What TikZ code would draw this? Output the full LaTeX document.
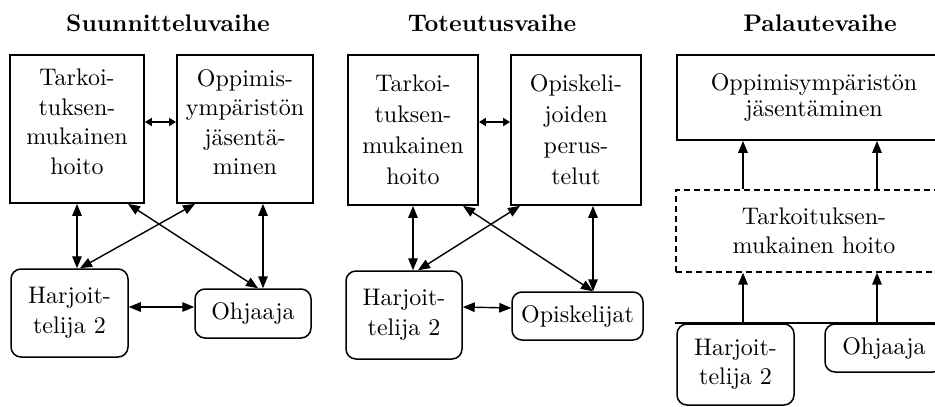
\documentclass[tikz,border=0pt]{standalone}
\usepackage{fontspec}
\setmainfont{lmroman10-regular.otf}[BoldFont=lmroman10-bold.otf]
\usetikzlibrary{arrows.meta}
\newcommand{\bodyfnt}{\fontsize{24}{29.5}\selectfont}
\newcommand{\bodyfntw}{\fontsize{24}{31}\selectfont}
\newcommand{\bodyfntn}{\fontsize{24}{26}\selectfont}
\newcommand{\titlefnt}{\fontsize{24}{27}\selectfont\bfseries}
\begin{document}
\begin{tikzpicture}[x=1pt,y=-1pt,
  box/.style={draw, line width=1.8pt, inner sep=0pt, align=center, font=\bodyfnt},
  txt/.style={inner sep=0pt, align=center, font=\bodyfnt},
  rbox/.style={box, line width=1.5pt, rounded corners=10pt},
  dbox/.style={draw, line width=1.3pt, dash pattern=on 6pt off 4pt, inner sep=0pt, align=center, font=\bodyfnt},
  ttl/.style={font=\titlefnt, inner sep=0pt},
  tip/.tip={Triangle[length=12pt,width=9.5pt]},
  stip/.tip={Triangle[length=7pt,width=8pt]},
  dbl/.style={tip-tip, line width=1.4pt},
  sdbl/.style={stip-stip, line width=1.8pt},
  sgl/.style={-tip, line width=1.4pt}]
\useasboundingbox (0,0) rectangle (935,407);
\clip (0,0) rectangle (935,407);
% titles
\node[ttl] (t1) at (168,23) {Suunnitteluvaihe};
\node[ttl] (t2) at (492,23) {Toteutusvaihe};
\node[ttl] (t3) at (820,23) {Palautevaihe};
% panel 1
\node[box, minimum width=134pt, minimum height=148pt] (A) at (77,129) {};
\node[txt] (Atx) at ([yshift=7pt]A.center) {Tarkoi-\\tuksen-\\mukainen\\hoito};
\node[box, minimum width=136pt, minimum height=148pt] (B) at (245,129) {};
\node[txt] (Btx) at ([yshift=7pt]B.center) {Oppimis-\\ympäristön\\jäsentä-\\minen};
\node[rbox, minimum width=117pt, minimum height=88pt] (H1) at (69.5,313) {Harjoit-\\telija 2};
\node[rbox, minimum width=116pt, minimum height=49pt] (O1) at (253,313.5) {Ohjaaja};
\draw[sdbl] ([yshift=7pt]A.east) -- ([yshift=7pt]B.west);
\draw[dbl] (A.south) -- (A.south |- H1.north);
\draw[dbl] ([xshift=18pt]B.south) -- ([xshift=18pt]B.south |- O1.north);
\draw[dbl] ([xshift=-50pt]B.south) -- ([xshift=10.5pt]H1.north);
\draw[dbl] ([xshift=51pt]A.south) -- ([xshift=5pt]O1.north);
\draw[dbl] ([yshift=6pt]H1.east) -- ([yshift=6.5pt]O1.west);
% panel 2
\node[box, font=\bodyfntw, minimum width=130pt, minimum height=150pt] (C) at (413,130) {Tarkoi-\\tuksen-\\mukainen\\hoito};
\node[box, font=\bodyfntw, minimum width=130pt, minimum height=150pt] (D) at (576,130) {Opiskeli-\\joiden\\perus-\\telut};
\node[rbox, minimum width=116pt, minimum height=88pt] (H2) at (404,315) {Harjoit-\\telija 2};
\node[rbox, minimum width=131pt, minimum height=48pt] (P2) at (577.5,316) {Opiskelijat};
\draw[sdbl] ([yshift=8pt]C.east) -- ([yshift=8pt]D.west);
\draw[dbl] (C.south) -- (C.south |- H2.north);
\draw[dbl] ([xshift=17pt]D.south) -- ([xshift=17pt]D.south |- P2.north);
\draw[dbl] ([xshift=-56pt]D.south) -- ([xshift=14pt]H2.north);
\draw[dbl] ([xshift=50pt]C.south) -- ([xshift=15.5pt]P2.north);
\draw[dbl] ([yshift=8pt]H2.east) -- ([yshift=8pt]P2.west);
% panel 3
\node[box, font=\bodyfntn, minimum width=274pt, minimum height=85pt] (T3) at (814,97.5) {Oppimisympäristön\\jäsentäminen};
\node[dbox, minimum width=276pt, minimum height=82pt] (K3) at (814,231) {Tarkoituksen-\\mukainen hoito};
\node[rbox, minimum width=117pt, minimum height=81pt] (H3) at (735.5,364.5) {Harjoit-\\telija 2};
\node[rbox, minimum width=118pt, minimum height=48pt] (O3) at (884,348) {Ohjaaja};
\coordinate (L1) at (675,323);
\coordinate (L2) at (960,323);
\coordinate (b1) at (743,323);
\coordinate (b2) at (877,323);
\draw[line width=1.8pt] (L1) -- (L2);
\draw[sgl] ([xshift=-71pt]K3.north) -- ([xshift=-71pt]T3.south);
\draw[sgl] ([xshift=63pt]K3.north) -- ([xshift=63pt]T3.south);
\draw[sgl] (b1) -- (b1 |- K3.south);
\draw[sgl] (b2) -- (b2 |- K3.south);
\end{tikzpicture}
\end{document}
